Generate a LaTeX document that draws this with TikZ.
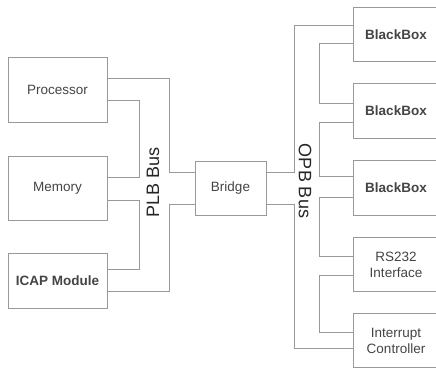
\documentclass[tikz,border=0pt]{standalone}
\usepackage{fontspec}
\setmainfont{Liberation Sans}
\definecolor{wire}{HTML}{999999}
\definecolor{txt}{HTML}{444444}

\begin{document}
\begin{tikzpicture}[x=1pt, y=-1pt,
    unit/.style={draw=wire, line width=1pt, text=txt, inner sep=0pt,
        minimum width=99pt, align=center, font=\fontsize{13.5}{16}\selectfont},
    periph/.style={unit, minimum width=86pt, minimum height=54.5pt},
    bus/.style={draw=wire, line width=1pt},
    buslabel/.style={text=black!85, font=\fontsize{18}{20}\selectfont}]
    \useasboundingbox (0,0) rectangle (436,368);
    \clip (0,0) rectangle (436,368);
    % PLB side
    \node[unit, minimum height=65pt] (proc) at (57.5,89.5) {Processor};
    \node[unit, minimum height=64pt] (mem) at (57.5,188) {Memory};
    \node[unit, minimum height=55pt, font=\fontsize{13.5}{16}\selectfont\bfseries]
        (icap) at (57.5,280.5) {ICAP Module};
    \node[unit, minimum width=71pt, minimum height=54pt] (bridge) at (230.5,188) {Bridge};
    \node[buslabel, rotate=90] (plb) at (153,182) {PLB Bus};
    % OPB side
    \node[periph, font=\fontsize{13.5}{16}\selectfont\bfseries] (bb1) at (396,34.5) {BlackBox};
    \node[periph, font=\fontsize{13.5}{16}\selectfont\bfseries] (bb2) at (396,111) {BlackBox};
    \node[periph, font=\fontsize{13.5}{16}\selectfont\bfseries] (bb3) at (396,188) {BlackBox};
    \node[periph] (uart) at (396,264.5) {RS232\\Interface};
    \node[periph] (intc) at (396,340.5) {Interrupt\\Controller};
    \node[buslabel, rotate=-90] (opb) at (305,181) {OPB Bus};

    % PLB wiring
    \draw[bus] ([yshift=11.5pt]proc.east) -- ++(62,0) |- ([yshift=16pt]bridge.west);
    \draw[bus] ([yshift=-10.5pt]proc.east) -- ++(32,0) |- ([yshift=11pt]mem.east);
    \draw[bus] ([yshift=-12pt]mem.east) -- ++(32,0) |- ([yshift=11.5pt]icap.east);
    \draw[bus] ([yshift=-10.5pt]icap.east) -- ++(62,0) |- ([yshift=-16pt]bridge.west);
    % OPB wiring
    \draw[bus] ([yshift=16pt]bridge.east) -- ++(28,0) |- ([yshift=9.5pt]bb1.west);
    \draw[bus] ([yshift=-8.5pt]bb1.west) -- ++(-33,0) |- ([yshift=8pt]bb2.west);
    \draw[bus] ([yshift=-11pt]bb2.west) -- ++(-33,0) |- ([yshift=12pt]bb3.west);
    \draw[bus] ([yshift=-9pt]bb3.west) -- ++(-33,0) |- ([yshift=8.5pt]uart.west);
    \draw[bus] ([yshift=-10.5pt]uart.west) -- ++(-33,0) |- ([yshift=8.5pt]intc.west);
    \draw[bus] ([yshift=-16pt]bridge.east) -- ++(28,0) |- ([yshift=-7.5pt]intc.west);
\end{tikzpicture}
\end{document}
